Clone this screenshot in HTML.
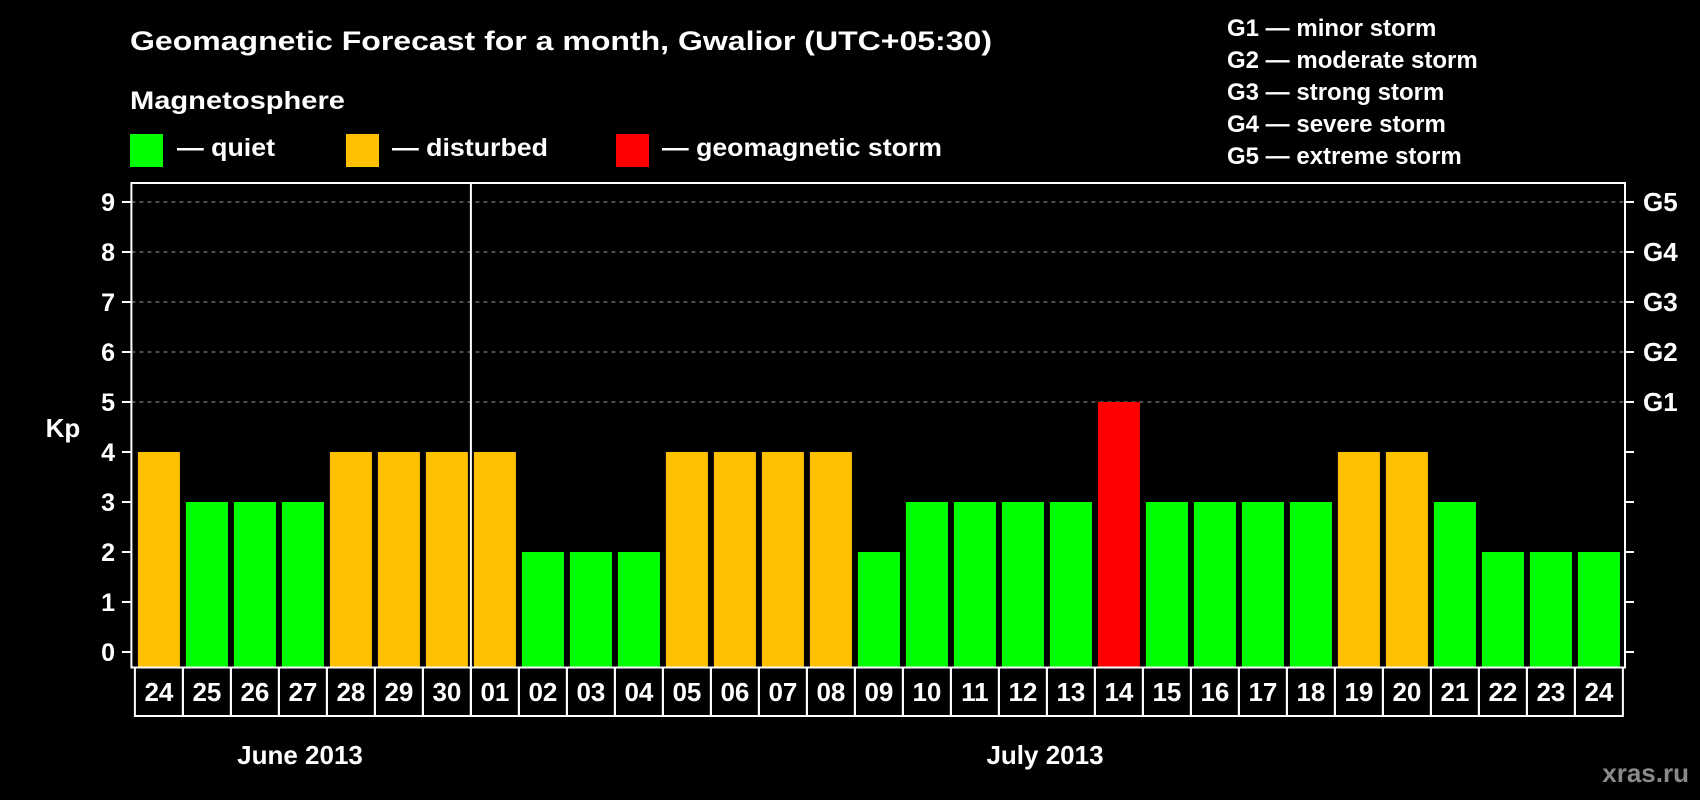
<!DOCTYPE html>
<html><head><meta charset="utf-8"><style>
html,body{margin:0;padding:0;background:#000;}
svg{display:block;font-family:"Liberation Sans",Arial,sans-serif;font-weight:bold;}
</style></head><body>
<svg id="chart" width="1700" height="800" viewBox="0 0 1700 800">
<text x="130" y="50" font-size="27" fill="#fff" textLength="862" lengthAdjust="spacingAndGlyphs">Geomagnetic Forecast for a month, Gwalior (UTC+05:30)</text>
<text x="130" y="109" font-size="25" fill="#fff" textLength="215" lengthAdjust="spacingAndGlyphs">Magnetosphere</text>
<g><rect x="130" y="134" width="33" height="33" fill="#00ff00"/><text x="177" y="156" font-size="25" fill="#fff" textLength="98" lengthAdjust="spacingAndGlyphs">— quiet</text></g>
<g><rect x="346" y="134" width="33" height="33" fill="#ffc000"/><text x="392" y="156" font-size="25" fill="#fff" textLength="156" lengthAdjust="spacingAndGlyphs">— disturbed</text></g>
<g><rect x="616" y="134" width="33" height="33" fill="#ff0000"/><text x="662" y="156" font-size="25" fill="#fff" textLength="280" lengthAdjust="spacingAndGlyphs">— geomagnetic storm</text></g>
<g font-size="24" fill="#fff">
<text x="1227" y="36">G1 — minor storm</text>
<text x="1227" y="68">G2 — moderate storm</text>
<text x="1227" y="100">G3 — strong storm</text>
<text x="1227" y="132">G4 — severe storm</text>
<text x="1227" y="164">G5 — extreme storm</text>
</g>
<text x="63" y="437" font-size="26" fill="#fff" text-anchor="middle">Kp</text>
<text x="300" y="764" font-size="26" fill="#fff" text-anchor="middle">June 2013</text>
<text x="1045" y="764" font-size="26" fill="#fff" text-anchor="middle">July 2013</text>
<text x="1689" y="782" font-size="26" fill="#8a8a8a" text-anchor="end">xras.ru</text>
<g id="plot"></g>
</svg>
<script>
const days = ["24","25","26","27","28","29","30","01","02","03","04","05","06","07","08","09","10","11","12","13","14","15","16","17","18","19","20","21","22","23","24"];
const kpValues = [4,3,3,3,4,4,4,4,2,2,2,4,4,4,4,2,3,3,3,3,5,3,3,3,3,4,4,3,2,2,2];
const yTicks = [0,1,2,3,4,5,6,7,8,9];
const gLabels = ["G1","G2","G3","G4","G5"];
const gLevels = [5,6,7,8,9];
const monthBreakIndex = 7;

const NS="http://www.w3.org/2000/svg";
const plot=document.getElementById('plot');
const L=131.4,R=1625,T=183,B=667.5,cellX0=134.9,cellW=48,barW=42;
const y=v=>652-v*50;
const xc=i=>cellX0+cellW*i+cellW/2;
function mk(tag,attrs){const e=document.createElementNS(NS,tag);for(const k in attrs)e.setAttribute(k,attrs[k]);plot.appendChild(e);return e;}
// gridlines
gLevels.forEach((v,k)=>{
  const g=mk('line',{x1:L,x2:R,y1:y(v),y2:y(v),stroke:'#999','stroke-width':1,'stroke-dasharray':'4,4'});
  
  
  const t=mk('text',{x:1643,y:y(v)+9,'font-size':26,fill:'#fff'});
  t.textContent=gLabels[k];
  
  
});
// ticks
yTicks.forEach(v=>{
  const a=mk('line',{x1:122,x2:L,y1:y(v),y2:y(v),stroke:'#fff','stroke-width':2});
  
  
  const b=mk('line',{x1:R,x2:1634,y1:y(v),y2:y(v),stroke:'#fff','stroke-width':2});
  
  
  const t=mk('text',{x:115,y:y(v)+9,'font-size':25,fill:'#fff','text-anchor':'end'});
  t.textContent=v;
  
  
});
// bars
kpValues.forEach((v,i)=>{
  const col=v>=5?'#ff0000':(v>=4?'#ffc000':'#00ff00');
  const r=mk('rect',{x:xc(i)-barW/2,y:y(v),width:barW,height:B-1-y(v),fill:col});
  
  
  const c=mk('rect',{x:cellX0+cellW*i,y:B,width:cellW,height:48.5,fill:'none',stroke:'#fff','stroke-width':2});
  
  
  const t=mk('text',{x:xc(i),y:701,'font-size':26,fill:'#fff','text-anchor':'middle'});
  t.textContent=days[i];
  
  
});
const box=mk('rect',{x:L,y:T,width:R-L,height:B-T,fill:'none',stroke:'#fff','stroke-width':2});


const dx=cellX0+cellW*monthBreakIndex;
const d=mk('line',{x1:dx,x2:dx,y1:T,y2:B+48,stroke:'#fff','stroke-width':2});


</script>
</body></html>
